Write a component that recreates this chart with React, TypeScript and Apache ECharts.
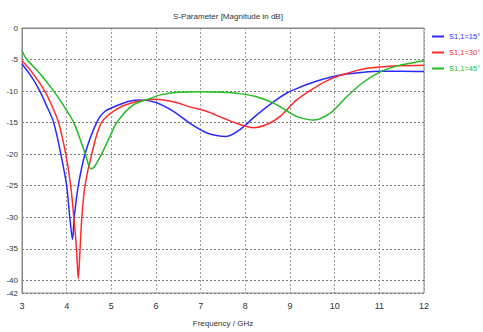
import React, { useEffect, useRef } from "react";
import * as echarts from "echarts";

const seriesNames = ["S1,1=15°", "S1,1=30°", "S1,1=45°"];
const seriesColors = ["#2a2aff", "#ff2a2a", "#22bb22"];

const freq15 = [3, 3.2, 3.4, 3.55, 3.71, 3.87, 4.0, 4.07, 4.13, 4.17, 4.26, 4.41, 4.67, 4.86, 5.16, 5.4, 5.64, 6.0, 6.39, 6.76, 7.13, 7.57, 7.88, 8.25, 8.63, 8.93, 9.15, 9.52, 9.9, 10.27, 10.64, 11.0, 11.5, 12];
const s15 = [-5.7, -7.6, -10.0, -12.3, -15.0, -20.0, -25.0, -30.0, -33.5, -30.0, -25.0, -20.0, -15.0, -13.2, -12.2, -11.6, -11.4, -11.8, -13.2, -15.1, -16.6, -17.2, -16.1, -13.8, -11.7, -10.3, -9.6, -8.6, -7.8, -7.3, -7.0, -6.85, -6.85, -6.9];

const freq30 = [3, 3.2, 3.51, 3.68, 3.82, 3.98, 4.09, 4.16, 4.22, 4.26, 4.3, 4.34, 4.41, 4.56, 4.78, 5.16, 5.6, 6.0, 6.39, 6.76, 7.13, 7.51, 7.88, 8.18, 8.48, 8.78, 9.15, 9.52, 9.9, 10.27, 10.64, 11.01, 11.4, 12];
const s30 = [-5.2, -6.8, -10.0, -12.5, -15.0, -20.0, -25.0, -30.0, -35.0, -39.7, -35.0, -30.0, -25.0, -20.0, -15.0, -12.7, -11.6, -11.3, -11.7, -12.5, -13.2, -14.3, -15.3, -15.8, -15.3, -14.0, -11.4, -9.6, -8.1, -7.2, -6.5, -6.2, -6.0, -5.9];

const freq45 = [3, 3.11, 3.4, 3.71, 3.95, 4.16, 4.42, 4.54, 4.62, 4.78, 4.95, 5.12, 5.49, 5.86, 6.1, 6.5, 7.0, 7.5, 7.88, 8.25, 8.63, 8.9, 9.15, 9.52, 9.9, 10.27, 10.64, 11.01, 11.4, 11.76, 12];
const s45 = [-3.6, -5.0, -7.2, -10.0, -12.5, -15.0, -20.0, -22.3, -22.0, -20.0, -17.5, -15.0, -12.2, -11.2, -10.6, -10.2, -10.1, -10.2, -10.4, -10.9, -11.9, -13.0, -14.0, -14.6, -13.5, -10.9, -8.6, -7.0, -6.0, -5.5, -5.2];

const yTickValues = [0, -5, -10, -15, -20, -25, -30, -35, -40, -42];

const FONT = "'Liberation Sans', Arial, sans-serif";

export default function App() {
  const ref = useRef<HTMLDivElement>(null);
  useEffect(() => {
    if (!ref.current) return;
    const chart = echarts.init(ref.current, null, { renderer: "svg" });
    const pairs = (xs: number[], ys: number[]) => xs.map((x, i) => [x, ys[i]]);
    const datasets = [pairs(freq15, s15), pairs(freq30, s30), pairs(freq45, s45)];
    chart.setOption({
      animation: false,
      backgroundColor: "#ffffff",
      title: {
        text: "S-Parameter [Magnitude in dB]",
        left: 223,
        textAlign: "center",
        top: 7,
        textStyle: { fontFamily: FONT, fontSize: 8, fontWeight: "normal", color: "#333" },
      },
      legend: {
        orient: "vertical",
        left: 432,
        top: 32,
        padding: 0,
        itemWidth: 12,
        itemHeight: 2,
        itemGap: 7,
        itemStyle: { borderWidth: 0 },
        icon: "rect",
        data: seriesNames.map((n, i) => ({ name: n, textStyle: { color: seriesColors[i] } })),
        textStyle: { fontFamily: FONT, fontSize: 7.5, lineHeight: 9 },
      },
      grid: {
        left: 22,
        right: 59,
        top: 28,
        bottom: 34,
        show: true,
        borderColor: "#888",
        borderWidth: 1,
        backgroundColor: "#fff",
      },
      xAxis: {
        type: "value",
        min: 3,
        max: 12,
        interval: 1,
        name: "Frequency / GHz",
        nameLocation: "middle",
        nameGap: 26,
        nameTextStyle: { fontFamily: FONT, fontSize: 8, color: "#333" },
        axisLine: { lineStyle: { color: "#888" } },
        axisTick: { show: false },
        axisLabel: { fontFamily: FONT, fontSize: 9, color: "#333", margin: 8 },
        splitLine: { show: true, lineStyle: { color: "#999", type: [2, 2], width: 1 } },
      },
      yAxis: {
        type: "value",
        min: -42,
        max: 0,
        axisLine: { show: true, lineStyle: { color: "#888" } },
        axisTick: { show: false, customValues: yTickValues },
        axisLabel: { fontFamily: FONT, fontSize: 8, color: "#333", margin: 4, customValues: yTickValues },
        splitLine: { show: true, customValues: yTickValues, lineStyle: { color: "#777", type: [2, 2], width: 1 } },
      },
      series: seriesNames.map((n, i) => ({
        name: n,
        type: "line",
        data: datasets[i],
        smooth: 0.3,
        showSymbol: false,
        lineStyle: { color: seriesColors[i], width: 1.5 },
        itemStyle: { color: seriesColors[i] },
      })),
    });
    return () => chart.dispose();
  }, []);
  return <div ref={ref} style={{ width: 483, height: 332, position: "absolute", left: 0, top: 0 }} />;
}
